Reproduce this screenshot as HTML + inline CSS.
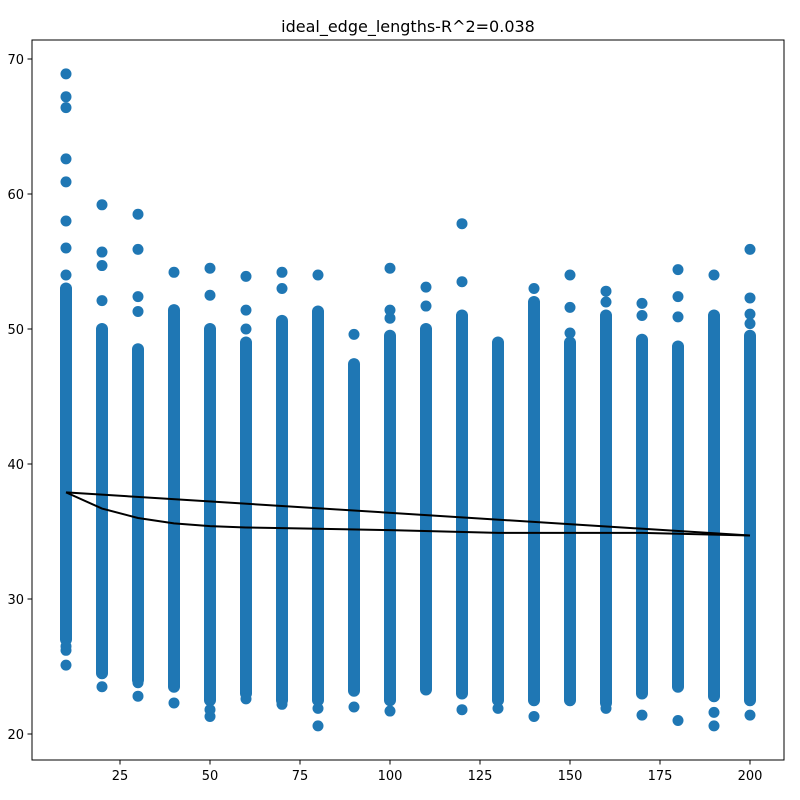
<!DOCTYPE html>
<html><head><meta charset="utf-8"><style>
html,body{margin:0;padding:0;background:#fff;}
svg{display:block;font-family:"DejaVu Sans","Liberation Sans",sans-serif;}
</style></head><body>
<svg id="chart" width="800" height="800" viewBox="0 0 800 800">
<rect width="800" height="800" fill="#fff"/>
<text x="408" y="32" text-anchor="middle" font-size="16">ideal_edge_lengths-R^2=0.038</text>
<g id="marks"></g>
<g id="lines"></g>
<rect x="32" y="40" width="752" height="720" fill="none" stroke="#000" stroke-width="1"/>
<g id="axes"></g>
</svg>
<script>
const categories=[10,20,30,40,50,60,70,80,90,100,110,120,130,140,150,160,170,180,190,200];
const denseLow=[27,24.5,24,23.5,22.5,23,22.5,22.5,23.2,22.5,23.3,23,22.5,22.5,22.5,22.3,23,23.5,22.8,22.5];
const denseHigh=[53,50,48.5,51.4,50,49,50.6,51.3,47.4,49.5,50,51,49,52,49,51,49.2,48.7,51,49.5];
const outliers=[[25.1,26.2,26.5,54,56,58,60.9,62.6,66.4,67.2,68.9],[23.5,52.1,54.7,55.7,59.2],[22.8,23.8,51.3,52.4,55.9,58.5],[22.3,54.2],[21.3,21.8,52.5,54.5],[22.6,50,51.4,53.9],[22.2,53,54.2],[20.6,21.9,54],[22,49.6],[21.7,50.8,51.4,54.5],[51.7,53.1],[21.8,53.5,57.8],[21.9],[21.3,53],[49.7,51.6,54],[21.9,52,52.8],[21.4,51,51.9],[21,50.9,52.4,54.4],[20.6,21.6,54],[21.4,50.4,51.1,52.3,55.9]];
const fitX=[10,200];
const fitY=[37.9,34.7];
const curveX=[10,20,30,40,50,60,80,100,130,170,200];
const curveY=[37.9,36.7,36.0,35.6,35.4,35.3,35.2,35.1,34.9,34.9,34.7];
const xTicks=[25,50,75,100,125,150,175,200];
const yTicks=[20,30,40,50,60,70];

const NS="http://www.w3.org/2000/svg";
function sx(v){return 750-(200-v)*3.6;}
function sy(v){return 734-(v-20)*13.5;}
function mk(tag,attrs,parent){const e=document.createElementNS(NS,tag);for(const k in attrs)e.setAttribute(k,attrs[k]);parent.appendChild(e);return e;}
const marks=document.getElementById('marks');
const C="#1f77b4";
categories.forEach((c,i)=>{
  const x=sx(c),y1=sy(denseHigh[i]),y2=sy(denseLow[i]);
  const r=mk('rect',{x:x-6,y:y1-6,width:12,height:y2-y1+12,rx:6,fill:C},marks);
  
  
  outliers[i].forEach(v=>{
    const p=mk('circle',{cx:x,cy:sy(v),r:5.5,fill:C},marks);
    
    
  });
});
const lines=document.getElementById('lines');
const fit=mk('polyline',{points:fitX.map((v,i)=>sx(v)+','+sy(fitY[i])).join(' '),fill:'none',stroke:'#000','stroke-width':2},lines);


const cur=mk('polyline',{points:curveX.map((v,i)=>sx(v)+','+sy(curveY[i])).join(' '),fill:'none',stroke:'#000','stroke-width':2},lines);


const axes=document.getElementById('axes');
xTicks.forEach(t=>{
  const x=sx(t);
  mk('line',{x1:x,y1:760,x2:x,y2:764.5,stroke:'#000'},axes);
  const tx=mk('text',{x:x,y:780,'text-anchor':'middle','font-size':13},axes);
  tx.textContent=t;
  
  
});
yTicks.forEach(t=>{
  const y=sy(t);
  mk('line',{x1:27.5,y1:y,x2:32,y2:y,stroke:'#000'},axes);
  const tx=mk('text',{x:24,y:y+5,'text-anchor':'end','font-size':13},axes);
  tx.textContent=t;
  
  
});
</script>
</body></html>
